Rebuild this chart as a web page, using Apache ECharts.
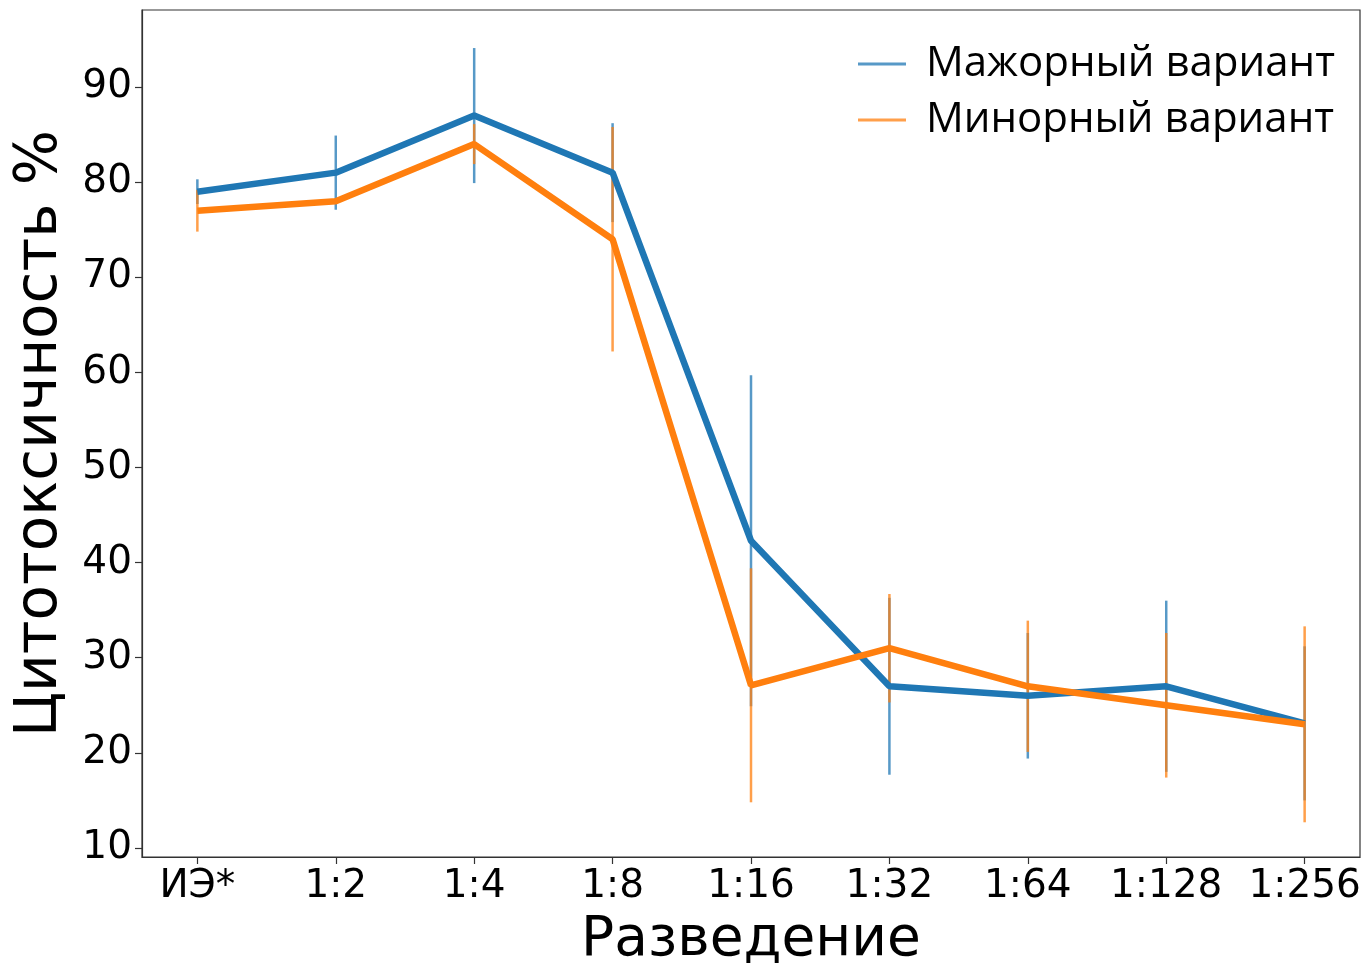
<!DOCTYPE html>
<html>
<head>
<meta charset="utf-8">
<script src="https://cdn.jsdelivr.net/npm/echarts@6/dist/echarts.min.js"></script>
<style>
html,body{margin:0;padding:0;background:#fff;}
#chart{width:1369px;height:963px;}
</style>
</head>
<body>
<div id="chart"></div>
<script>
// Dilution steps on the x axis
const categories = ['ИЭ*', '1:2', '1:4', '1:8', '1:16', '1:32', '1:64', '1:128', '1:256'];
// Mean cytotoxicity, %
const majorValues = [79, 81, 87, 81, 42.3, 27, 26, 27, 23.1];
const minorValues = [77, 78, 84, 74, 27.1, 31, 27, 25, 23];
// Standard deviation (symmetric error bars)
const majorErr = [1.3, 3.9, 7.1, 5.2, 17.4, 9.3, 6.6, 9.0, 8.1];
const minorErr = [2.2, 0.3, 2.1, 11.8, 12.3, 5.7, 6.9, 7.6, 10.3];
const yTicks = [10, 20, 30, 40, 50, 60, 70, 80, 90];

const seriesNames = ['Мажорный вариант', 'Минорный вариант'];
const blue = '#1f77b4';
const orange = '#ff7f0e';

const tickFont = 'DejaVu Sans';
const xIdx = categories.map((_, i) => i);

function points(vals) { return vals.map((v, i) => [i, v]); }
function errRows(vals, errs) { return vals.map((v, i) => [i, v - errs[i], v + errs[i]]); }

function errorBars(name, rows, color) {
  return {
    type: 'custom',
    name: name,
    data: rows,
    silent: true,
    z: 2,
    renderItem: function (params, api) {
      const x = api.value(0);
      const lo = api.coord([x, api.value(1)]);
      const hi = api.coord([x, api.value(2)]);
      return {
        type: 'line',
        shape: { x1: lo[0], y1: lo[1], x2: hi[0], y2: hi[1] },
        style: { stroke: color, lineWidth: 2.5, opacity: 0.75 }
      };
    }
  };
}

const chart = echarts.init(document.getElementById('chart'), null, { renderer: 'canvas' });
chart.setOption({
  animation: false,
  backgroundColor: '#ffffff',
  grid: { left: 142, right: 9, top: 10, bottom: 106, containLabel: false, outerBoundsMode: 'none' },
  xAxis: {
    type: 'value',
    min: -0.4,
    max: 8.4,
    splitLine: { show: false },
    axisLine: { show: true, onZero: false, lineStyle: { color: '#333', width: 1.2 } },
    axisTick: { show: true, length: 7, inside: false, customValues: xIdx, lineStyle: { color: '#333', width: 1.2 } },
    axisLabel: {
      customValues: xIdx,
      formatter: v => categories[Math.round(v)],
      color: '#000', fontFamily: tickFont, fontSize: 39, margin: 10
    },
    name: 'Разведение',
    nameLocation: 'middle',
    nameGap: 56,
    nameTextStyle: { color: '#000', fontFamily: tickFont, fontSize: 55 }
  },
  yAxis: {
    type: 'value',
    min: 9.05,
    max: 98.1,
    splitLine: { show: false },
    axisLine: { show: true, onZero: false, lineStyle: { color: '#333', width: 1.2 } },
    axisTick: { show: true, length: 7, inside: false, customValues: yTicks, lineStyle: { color: '#333', width: 1.2 } },
    axisLabel: {
      customValues: yTicks,
      color: '#000', fontFamily: tickFont, fontSize: 39, margin: 10
    },
    name: 'Цитотоксичность %',
    nameLocation: 'middle',
    nameGap: 72,
    nameTextStyle: { color: '#000', fontFamily: tickFont, fontSize: 58 }
  },
  legend: {
    orient: 'vertical',
    left: 858,
    top: 43,
    itemWidth: 48,
    itemHeight: 3,
    itemGap: 14,
    icon: 'rect',
    padding: 0,
    data: [
      { name: seriesNames[0], itemStyle: { color: blue, opacity: 0.75 } },
      { name: seriesNames[1], itemStyle: { color: orange, opacity: 0.75 } }
    ],
    textStyle: { color: '#000', fontFamily: 'Open Sans', fontSize: 42, padding: [0, 0, 0, 15] }
  },
  series: [
    errorBars(seriesNames[0], errRows(majorValues, majorErr), blue),
    errorBars(seriesNames[1], errRows(minorValues, minorErr), orange),
    {
      type: 'line', name: seriesNames[0], data: points(majorValues),
      showSymbol: false, symbol: 'none', z: 3,
      lineStyle: { color: blue, width: 6.5 }, itemStyle: { color: blue }
    },
    {
      type: 'line', name: seriesNames[1], data: points(minorValues),
      showSymbol: false, symbol: 'none', z: 4,
      lineStyle: { color: orange, width: 6.5 }, itemStyle: { color: orange }
    }
  ]
});
// frame the plot area on all four sides
chart.setOption({
  graphic: [{
    type: 'rect', z: 10, silent: true,
    shape: { x: 142, y: 10, width: 1369 - 142 - 9, height: 963 - 10 - 106 },
    style: { fill: null, stroke: '#333', lineWidth: 1.2 }
  }]
});
</script>
</body>
</html>
